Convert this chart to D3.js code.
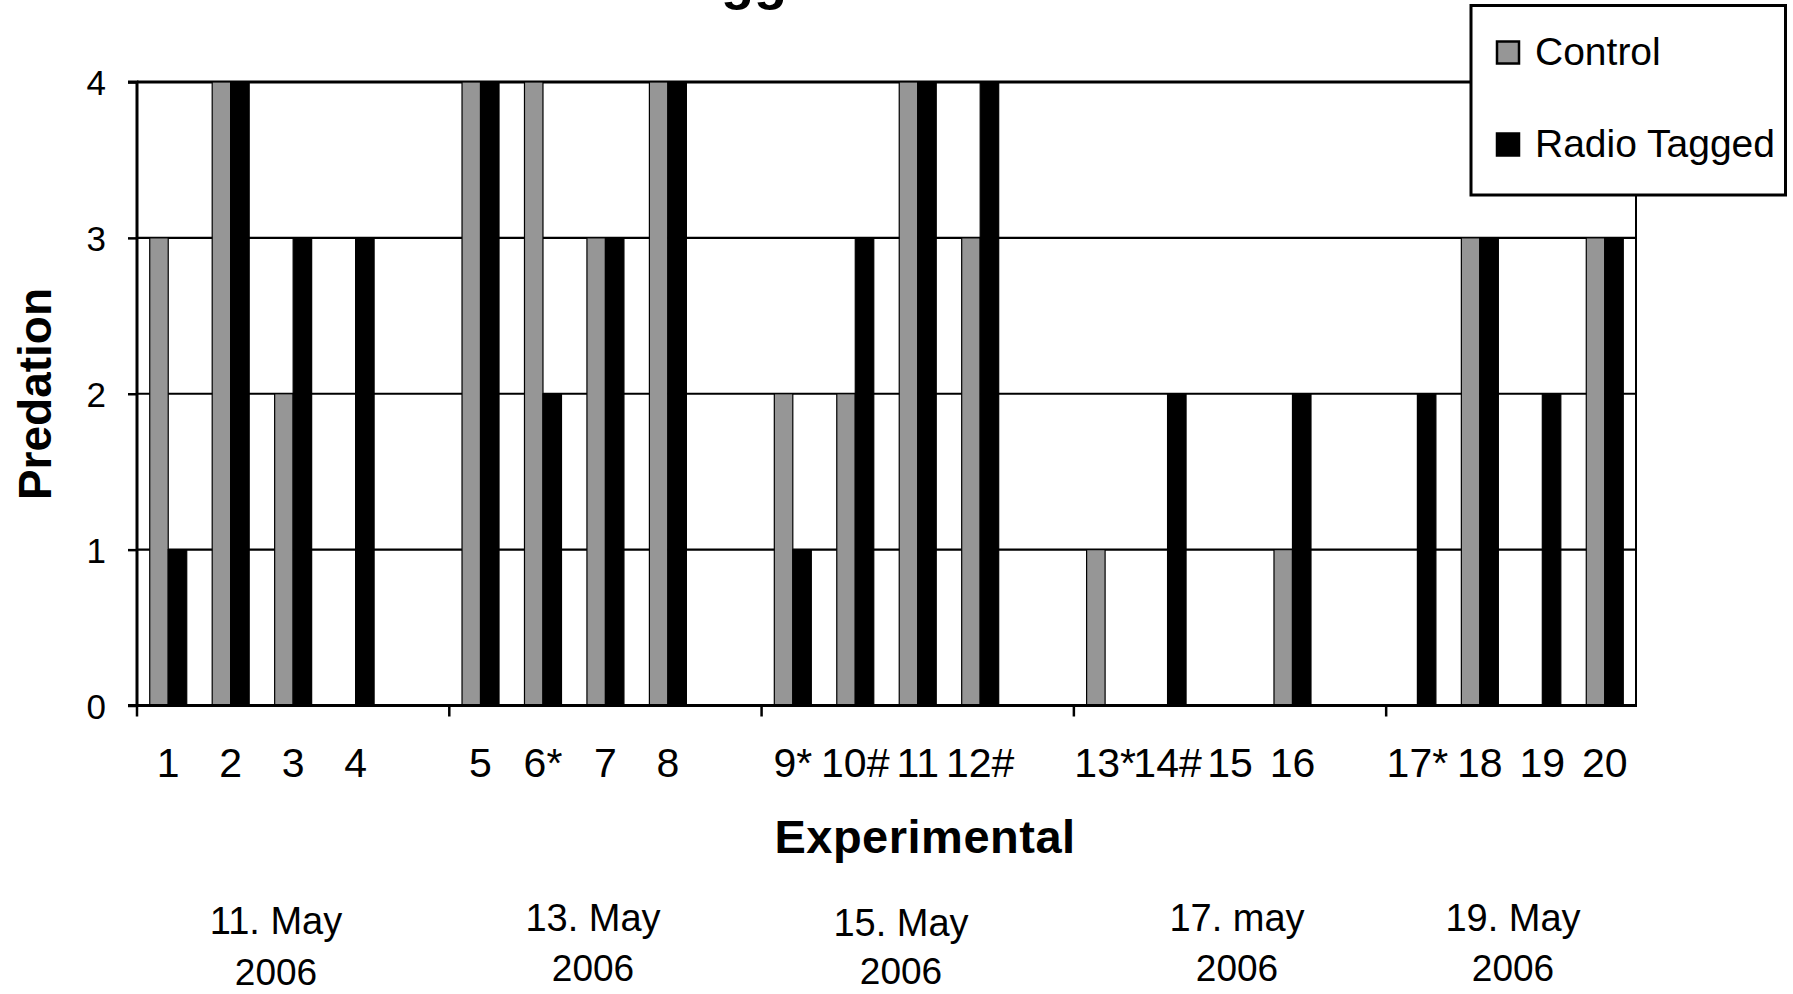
<!DOCTYPE html>
<html>
<head>
<meta charset="utf-8">
<script src="https://cdn.jsdelivr.net/npm/d3@7"></script>
<style>
  html, body { margin: 0; padding: 0; background: #fff; }
  svg { display: block; }
  text { font-family: "Liberation Sans", Arial, sans-serif; fill: #000; }
</style>
</head>
<body>
<svg id="chart" width="1793" height="994"></svg>
<script>
// ---- data ----
const categories = ["1","2","3","4","","5","6*","7","8","","9*","10#","11","12#","","13*","14#","15","16","","17*","18","19","20"];
const controlValues = [3,4,2,0,null,4,4,3,4,null,2,2,4,3,null,1,0,0,1,null,0,3,0,3];
const radioValues   = [1,4,3,3,null,4,2,3,4,null,1,3,4,4,null,0,2,0,2,null,2,3,2,3];
const seriesNames = ["Control","Radio Tagged"];
const yTickValues = [0,1,2,3,4];
const dateLine1 = ["11. May","13. May","15. May","17. may","19. May"];
const dateLine2 = ["2006","2006","2006","2006","2006"];
const groupTickIdx = [0,5,10,15,20];
const titleText = "Radio Tagged";
const xTitle = "Experimental";
const yTitle = "Predation";

// ---- layout ----
const L = 137, R = 1636, T = 82, B = 705.5;
const colors = ["#969696", "#000000"];
const dateX = [276, 593, 901, 1237, 1513];
const dateY1 = [934, 931, 936, 931, 931];
const dateY2 = [985, 981, 984, 981, 981];

const svg = d3.select("#chart");

const x = d3.scaleBand().domain(d3.range(categories.length)).range([L, R]).padding(0);
const y = d3.scaleLinear().domain([0, 4]).range([B, T]);
const barW = 18.5;

// gridlines
svg.append("g").selectAll("line").data(yTickValues.filter(v => v > 0)).join("line")
  .attr("x1", L).attr("x2", R)
  .attr("y1", d => y(d)).attr("y2", d => y(d))
  .attr("stroke", "#000").attr("stroke-width", d => d === 4 ? 3 : 2.2);

// right border
svg.append("line").attr("x1", R).attr("x2", R).attr("y1", T).attr("y2", B)
  .attr("stroke", "#000").attr("stroke-width", 2);

// bars
const series = [controlValues, radioValues];
series.forEach((vals, si) => {
  svg.append("g").selectAll("rect")
    .data(vals.map((v, i) => ({ v, i })).filter(d => d.v !== null && d.v > 0))
    .join("rect")
    .attr("x", d => x(d.i) + x.bandwidth() / 2 - barW + si * barW)
    .attr("width", barW)
    .attr("y", d => y(d.v))
    .attr("height", d => y(0) - y(d.v))
    .attr("fill", colors[si])
    .attr("stroke", "#000")
    .attr("stroke-width", 1.2);
});

// y axis
const yAxis = d3.axisLeft(y).tickValues(yTickValues).tickSize(9).tickPadding(0).tickFormat(d3.format("d"));
const yg = svg.append("g").attr("transform", `translate(${L},0)`).call(yAxis);
yg.select(".domain").attr("stroke", "#000").attr("stroke-width", 3).attr("d", `M-9,${T}H0V${B}H-9`);
yg.selectAll(".tick line").attr("stroke", "#000").attr("stroke-width", 2.5);
yg.selectAll(".tick text").attr("x", -31).attr("dy", "0.36em")
  .style("font-size", "35px").style("font-family", '"Liberation Sans", Arial, sans-serif').attr("fill", "#000");

// x axis
const xAxis = d3.axisBottom(x).tickFormat(i => categories[i]).tickSize(0).tickPadding(0);
const xg = svg.append("g").attr("transform", `translate(0,${B})`).call(xAxis);
xg.select(".domain").remove();
xg.selectAll(".tick text").attr("y", 71).attr("dy", 0)
  .style("font-size", "41px").style("font-family", '"Liberation Sans", Arial, sans-serif').attr("fill", "#000");
svg.append("line").attr("x1", L - 1.5).attr("x2", R + 1).attr("y1", B).attr("y2", B)
  .attr("stroke", "#000").attr("stroke-width", 3);
svg.append("g").selectAll("line").data(groupTickIdx).join("line")
  .attr("x1", d => x(d)).attr("x2", d => x(d))
  .attr("y1", B).attr("y2", B + 11)
  .attr("stroke", "#000").attr("stroke-width", 2.5);

// axis titles
svg.append("text").attr("x", 925).attr("y", 853).attr("text-anchor", "middle")
  .style("font-size", "47px").style("font-weight", "bold").style("letter-spacing", "0.5px").text(xTitle);
svg.append("text").attr("transform", "translate(51,394) rotate(-90)").attr("text-anchor", "middle")
  .style("font-size", "46px").style("font-weight", "bold").text(yTitle);

// date labels
dateLine1.forEach((t, i) => {
  svg.append("text").attr("x", dateX[i]).attr("y", dateY1[i]).attr("text-anchor", "middle")
    .style("font-size", "38px").text(t);
  svg.append("text").attr("x", dateX[i]).attr("y", dateY2[i]).attr("text-anchor", "middle")
    .style("font-size", "37px").text(dateLine2[i]);
});

// title (mostly cut off at top in the reference; only descenders visible)
const title = svg.append("text").attr("x", 0).attr("y", -1)
  .style("font-size", "54px").style("font-weight", "bold").text(titleText);
const gIdx = titleText.indexOf("gg");
let gStart = 0;
try { gStart = title.node().getStartPositionOfChar(gIdx).x; } catch (e) { gStart = 232; }
title.attr("x", 721 - gStart);

// legend
const lg = svg.append("g");
lg.append("rect").attr("x", 1471).attr("y", 5.5).attr("width", 314.5).attr("height", 189.5)
  .attr("fill", "#fff").attr("stroke", "#000").attr("stroke-width", 3);
seriesNames.forEach((name, i) => {
  const cy = 52.5 + i * 92;
  lg.append("rect").attr("x", 1497).attr("y", cy - 11).attr("width", 22).attr("height", 22)
    .attr("fill", colors[i]).attr("stroke", "#000").attr("stroke-width", 2.5);
  lg.append("text").attr("x", 1535).attr("y", cy + 12).style("font-size", "39px").text(name);
});
</script>
</body>
</html>
